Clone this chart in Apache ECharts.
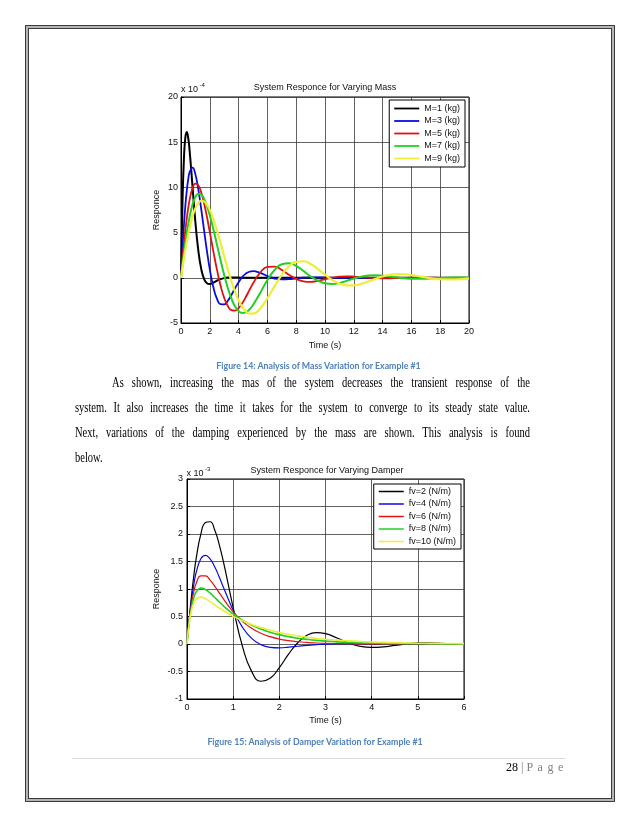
<!DOCTYPE html>
<html>
<head>
<meta charset="utf-8">
<script src="https://cdn.jsdelivr.net/npm/echarts/dist/echarts.min.js"></script>
<style>
  html, body { margin:0; padding:0; background:#fff; }
  body { width:638px; height:826px; position:relative; overflow:hidden; }
  #chart { position:absolute; left:0; top:0; width:638px; height:826px; }
  #frame { position:absolute; left:25px; top:25px; width:590px; height:777px; box-sizing:border-box;
           border:1px solid #3c3c3c; box-shadow: inset 0 0 0 2px #b4b4b4, inset 0 0 0 3px #3c3c3c; pointer-events:none; }
  #footline { position:absolute; left:72px; top:758px; width:493px; height:1px; background:#d9d9d9; }
  .cap { position:absolute; left:0; text-align:center; font-family:Lato, 'Open Sans', sans-serif; font-weight:700;
         font-size:8.8px; line-height:12px; color:#4f81bd; }
  #para { position:absolute; left:75px; top:369.5px; width:650px; transform:scaleX(0.7); transform-origin:0 0;
          font-family:'Liberation Serif', 'DejaVu Serif', serif; font-size:15px; line-height:25px; color:#000; }
  #para .j { text-align:justify; text-align-last:justify; }
  #pnum { position:absolute; left:506px; top:760px; font-family:'Liberation Serif', serif; font-size:12px; line-height:14px; color:#000; white-space:nowrap; }
  #pnum .g { color:#7f7f7f; }
  #pnum .p { color:#7f7f7f; letter-spacing:4.5px; }
</style>
</head>
<body>
<div id="chart"></div>
<div id="frame"></div>
<div id="footline"></div>
<div class="cap" style="top:360px;width:637px;">Figure 14: Analysis of Mass Variation for Example #1</div>
<div class="cap" style="top:736px;width:630px;">Figure 15: Analysis of Damper Variation for Example #1</div>
<div id="para">
  <div class="j" style="padding-left:53px;">As shown, increasing the mas of the system decreases the transient response of the</div>
  <div class="j">system. It also increases the time it takes for the system to converge to its steady state value.</div>
  <div class="j">Next, variations of the damping experienced by the mass are shown. This analysis is found</div>
  <div>below.</div>
</div>
<div id="pnum">28 <span class="g">|</span> <span class="p">Page</span></div>
<script>
// ---------- Chart 1: System Responce for Varying Mass (values x 10^-4) ----------
const massTime = [0,0.1,0.2,0.3,0.4,0.5,0.6,0.8,1.0,1.2,1.4,1.6,1.8,2.0,2.25,2.5,2.75,3.0,3.25,3.5,3.75,4.0,4.25,4.5,4.75,5.0,
  5.5,6.0,6.5,7.0,7.5,8.0,8.5,9.0,9.5,10,10.5,11,11.5,12,12.5,13,13.5,14,14.5,15,15.5,16,17,18,19,20];
const massNames = ['M=1 (kg)','M=3 (kg)','M=5 (kg)','M=7 (kg)','M=9 (kg)'];
const massM1 = [0,8.13,13.05,15.49,16.12,15.48,14.04,10.09,6.15,3.06,1.02,-0.12,-0.60,-0.69,-0.54,-0.32,-0.14,-0.03,0.02,0.03,0.03,0.02,0.01,0.01,0,0,
  0,0,0,0,0,0,0,0,0,0,0,0,0,0,0,0,0,0,0,0,0,0,0,0,0,0];
const massM3 = [0,3.11,5.75,7.92,9.62,10.86,11.69,12.19,11.44,9.81,7.65,5.28,2.98,0.94,-1.05,-2.34,-2.92,-2.94,-2.54,-1.90,-1.17,-0.49,0.07,0.46,0.67,0.73,
  0.54,0.19,-0.08,-0.18,-0.15,-0.06,0.01,0.04,0.04,0.02,0,-0.01,-0.01,0,0,0,0,0,0,0,0,0,0,0,0,0];
const massM5 = [0,1.92,3.66,5.21,6.56,7.70,8.65,9.91,10.41,10.23,9.46,8.26,6.75,5.06,2.90,0.87,-0.88,-2.22,-3.12,-3.58,-3.64,-3.35,-2.82,-2.13,-1.37,-0.63,
  0.58,1.20,1.24,0.87,0.34,-0.12,-0.39,-0.45,-0.34,-0.16,0.01,0.12,0.16,0.13,0.07,0.01,-0.04,-0.05,-0.05,-0.03,-0.01,0.01,0.02,0,-0.01,0];
const massM7 = [0,1.39,2.68,3.87,4.95,5.92,6.77,8.10,8.93,9.30,9.22,8.75,7.96,6.91,5.35,3.64,1.93,0.30,-1.12,-2.28,-3.14,-3.67,-3.89,-3.82,-3.51,-3.01,
  -1.67,-0.25,0.86,1.50,1.61,1.31,0.76,0.16,-0.32,-0.61,-0.68,-0.57,-0.34,-0.09,0.12,0.25,0.29,0.24,0.15,0.05,-0.04,-0.10,-0.10,-0.02,0.04,0.04];
const massM9 = [0,1.09,2.11,3.08,3.98,4.80,5.55,6.79,7.71,8.28,8.52,8.45,8.10,7.51,6.49,5.23,3.84,2.38,0.96,-0.36,-1.53,-2.50,-3.22,-3.70,-3.95,-3.96,
  -3.39,-2.26,-0.92,0.33,1.27,1.77,1.83,1.52,0.97,0.34,-0.23,-0.64,-0.84,-0.84,-0.68,-0.41,-0.12,0.14,0.32,0.40,0.39,0.30,0.04,-0.16,-0.18,-0.07];
const massXTicks = [0,20,2];     // min, max, step
const massYTicks = [-5,20,5];

// ---------- Chart 2: System Responce for Varying Damper (values x 10^-3) ----------
const damperTime = [0,0.05,0.1,0.15,0.2,0.3,0.4,0.5,0.6,0.7,0.8,0.9,1.0,1.2,1.4,1.6,1.8,2.0,2.2,2.4,2.6,2.8,3.0,
  3.25,3.5,3.75,4.0,4.25,4.5,4.75,5.0,5.25,5.5,5.75,6.0];
const damperNames = ['fv=2 (N/m)','fv=4 (N/m)','fv=6 (N/m)','fv=8 (N/m)','fv=10 (N/m)'];
const damperF2 = [0,0.474,0.894,1.257,1.562,1.997,2.207,2.223,2.074,1.803,1.452,1.058,0.662,-0.038,-0.498,-0.677,-0.624,-0.429,-0.185,0.023,0.158,0.207,0.188,
  0.108,0.019,-0.042,-0.063,-0.052,-0.026,0,0.021,0.020,0.012,0.003,-0.004];
const damperF4 = [0,0.452,0.813,1.095,1.305,1.549,1.612,1.548,1.404,1.215,1.009,0.805,0.615,0.306,0.102,-0.012,-0.060,-0.069,-0.058,-0.041,-0.024,-0.012,-0.003,
  0.001,0.001,0,0,0,0,0,0,0,0,0,0];
const damperF6 = [0,0.431,0.742,0.960,1.105,1.238,1.237,1.163,1.052,0.929,0.806,0.690,0.585,0.412,0.285,0.196,0.133,0.090,0.061,0.041,0.028,0.018,0.012,
  0.008,0.005,0.003,0.002,0.001,0.001,0.001,0,0,0,0,0];
const damperF8 = [0,0.411,0.679,0.848,0.947,1.016,0.991,0.926,0.846,0.764,0.685,0.612,0.546,0.433,0.343,0.271,0.215,0.170,0.134,0.106,0.084,0.066,0.053,
  0.039,0.029,0.022,0.016,0.012,0.009,0.007,0.005,0.004,0.003,0.002,0.002];
const damperF10 = [0,0.392,0.624,0.755,0.822,0.853,0.822,0.770,0.711,0.654,0.600,0.551,0.505,0.423,0.355,0.298,0.250,0.210,0.176,0.148,0.124,0.104,0.087,
  0.070,0.056,0.045,0.036,0.029,0.023,0.019,0.015,0.012,0.010,0.008,0.006];
const damperXTicks = [0,6,1];
const damperYTicks = [-1,3,0.5];

// ---------- build ----------
const FONT = "'Liberation Sans', Arial, Helvetica, sans-serif";
const colors = ['#000000','#0b0be0','#e01212','#22d022','#eded3a'];
const massWidths = [2,1.8,1.8,2,2.2];
const damperWidths = [1.2,1.2,1.2,1.6,1.6];

function pairs(t, v){ return t.map((x,i)=>[x, v[i]]); }

function axis(gridIndex, ticks, extra){
  return Object.assign({
    gridIndex, type:'value', min:ticks[0], max:ticks[1], interval:ticks[2],
    nameLocation:'middle',
    nameTextStyle:{ color:'#111', fontSize:9, fontFamily:FONT },
    axisLine:{ show:true, onZero:false, lineStyle:{ color:'#000', width:1 } },
    axisTick:{ show:true, inside:true, length:3, lineStyle:{ color:'#000' } },
    axisLabel:{ color:'#111', fontSize:9, fontFamily:FONT, margin:4 },
    splitLine:{ show:true, lineStyle:{ color:'#3a3a3a', width:0.8 } }
  }, extra);
}

const massVals = [massM1, massM3, massM5, massM7, massM9];
const damperVals = [damperF2, damperF4, damperF6, damperF8, damperF10];

const series = [];
massVals.forEach((v,i)=>series.push({
  name:massNames[i], type:'line', xAxisIndex:0, yAxisIndex:0, data:pairs(massTime, v),
  symbol:'none', smooth:0.5, lineStyle:{ color:colors[i], width:massWidths[i] }, itemStyle:{ color:colors[i] }
}));
damperVals.forEach((v,i)=>series.push({
  name:damperNames[i], type:'line', xAxisIndex:1, yAxisIndex:1, data:pairs(damperTime, v),
  symbol:'none', smooth:0.5, lineStyle:{ color:colors[i], width:damperWidths[i] }, itemStyle:{ color:colors[i] }
}));

function legend(names, right, top, pad, thick){
  return { data:names, orient:'vertical', right, top, itemWidth:25, itemHeight:9, itemGap:3.5,
    icon:'path://M0,0 L25,0 L25,' + thick + ' L0,' + thick + ' Z',
    padding:pad, borderColor:'#000', borderWidth:1, backgroundColor:'#fff', selectedMode:false,
    textStyle:{ fontSize:9, fontFamily:FONT, color:'#111' } };
}

function txt(x, y, s, size, align){
  return { type:'text', x, y, silent:true,
    style:{ text:s, fill:'#111', font:size+'px '+FONT, align:align||'left', verticalAlign:'middle' } };
}

const option = {
  animation:false,
  backgroundColor:'transparent',
  grid:[
    { left:181, top:97, width:288, height:226, show:true, borderColor:'#000', borderWidth:1, backgroundColor:'#fff' },
    { left:187, top:479, width:277, height:220, show:true, borderColor:'#000', borderWidth:1, backgroundColor:'#fff' }
  ],
  xAxis:[
    axis(0, massXTicks, { name:'Time (s)', nameGap:18 }),
    axis(1, damperXTicks, { name:'Time (s)', nameGap:17 })
  ],
  yAxis:[
    axis(0, massYTicks, { name:'Responce', nameGap:20, nameRotate:90, axisLabel:{ color:'#111', fontSize:9, fontFamily:FONT, margin:3 } }),
    axis(1, damperYTicks, { name:'Responce', nameGap:26, nameRotate:90, axisLabel:{ color:'#111', fontSize:9, fontFamily:FONT, margin:4 } })
  ],
  legend:[
    legend(massNames, 173, 100, [4,5,4,5], 1.8),
    legend(damperNames, 177, 484, [3,5,3,5], 1.5)
  ],
  series,
  graphic:[
    txt(325, 88, 'System Responce for Varying Mass', 9, 'center'),
    txt(181, 89.5, 'x 10', 9),
    txt(199.5, 85, '-4', 6),
    txt(327, 471, 'System Responce for Varying Damper', 9, 'center'),
    txt(186.5, 473.5, 'x 10', 9),
    txt(205, 469, '-3', 6)
  ]
};

const chart = echarts.init(document.getElementById('chart'), null, { renderer:'canvas' });
chart.setOption(option);
</script>
</body>
</html>
